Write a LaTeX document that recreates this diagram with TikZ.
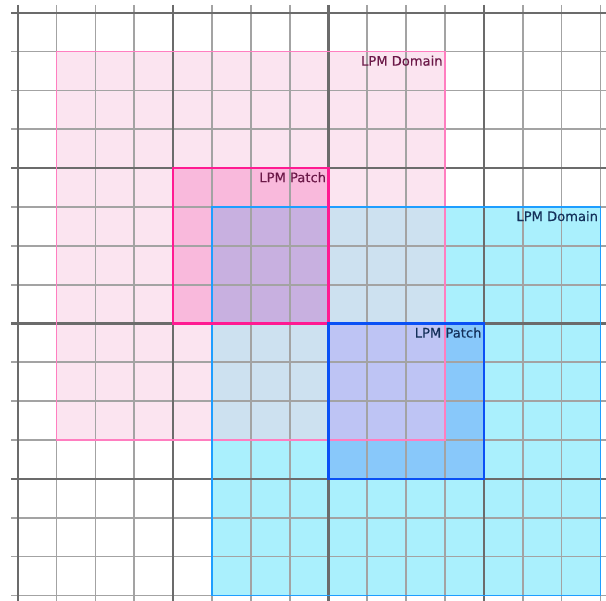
\documentclass[tikz,border=0pt]{standalone}
\usepackage{fontspec}
\newfontfamily\lpmfont[BoldFont={DejaVu Sans}, BoldFeatures={FakeBold=0.3}]{DejaVu Sans}
\usepackage{tikz}

\definecolor{pinkdomfill}{HTML}{FBE4F0}
\definecolor{pinkpatchfill}{HTML}{F9B9DC}
\definecolor{bluedomfill}{HTML}{AAF0FD}
\definecolor{bluepatchfill}{HTML}{88C8FA}
\definecolor{mixdom}{HTML}{CDE1F0}
\definecolor{mixpinkpatch}{HTML}{C8B0E0}
\definecolor{mixbluepatch}{HTML}{BEC4F4}
\definecolor{pinkdomline}{HTML}{FF7EC0}
\definecolor{pinkpatchline}{HTML}{FF1A92}
\definecolor{bluedomline}{HTML}{1E9EFF}
\definecolor{bluepatchline}{HTML}{0A50F5}
\definecolor{pinktext}{HTML}{6B1848}
\definecolor{bluetext}{HTML}{14305A}

\begin{document}
\begin{tikzpicture}[
    gridthin/.style={draw=black!36, line width=1.3pt},
    gridthick/.style={draw=black!58, line width=1.5pt},
    domline/.style={line width=1.3pt},
    patchline/.style={line width=1.6pt},
    lpmlabel/.style={font=\lpmfont\bfseries\fontsize{9.6}{11}\selectfont, anchor=north east, inner sep=1.6pt, yshift=-1.2pt}
]
\useasboundingbox (-0.456,0.327) rectangle (15.143,-15.143);

% Box corners
\coordinate (pdomNW) at (1,-1);
\coordinate (pdomSE) at (11,-11);
\coordinate (pdomNE) at (11,-1);
\coordinate (ppatNW) at (4,-4);
\coordinate (ppatSE) at (8,-8);
\coordinate (ppatNE) at (8,-4);
\coordinate (bdomNW) at (5,-5);
\coordinate (bdomSE) at (15,-15);
\coordinate (bdomNE) at (15,-5);
\coordinate (bpatNW) at (8,-8);
\coordinate (bpatSE) at (12,-12);
\coordinate (bpatNE) at (12,-8);

% Fills
\fill[pinkdomfill] (pdomNW) rectangle (pdomSE);
\fill[bluedomfill] (bdomNW) rectangle (bdomSE);
\fill[mixdom] (bdomNW) rectangle (pdomSE);
\fill[pinkpatchfill] (ppatNW) rectangle (ppatSE);
\fill[mixpinkpatch] (bdomNW) rectangle (ppatSE);
\fill[bluepatchfill] (bpatNW) rectangle (bpatSE);
\fill[mixbluepatch] (bpatNW) rectangle (pdomSE);

% Grid
\foreach \i in {0,...,15} {
    \draw[gridthin] (\i,0.2) -- (\i,-15.143);
    \draw[gridthin] (-0.17,-\i) -- (15.143,-\i);
}
\foreach \i in {0,4,8,12} {
    \draw[gridthick] (\i,0.2) -- (\i,-15.143);
    \draw[gridthick] (-0.17,-\i) -- (15.143,-\i);
}

% Borders
\draw[domline, pinkdomline] (pdomNW) rectangle (pdomSE);
\draw[domline, bluedomline] (bdomNW) rectangle (bdomSE);
\draw[patchline, pinkpatchline] (ppatNW) rectangle (ppatSE);
\draw[patchline, bluepatchline] (bpatNW) rectangle (bpatSE);

% Labels
\node[lpmlabel, pinktext] (pdomlabel) at (pdomNE) {LPM Domain};
\node[lpmlabel, pinktext] (ppatlabel) at (ppatNE) {LPM Patch};
\node[lpmlabel, bluetext] (bdomlabel) at (bdomNE) {LPM Domain};
\node[lpmlabel, bluetext] (bpatlabel) at (bpatNE) {LPM Patch};

\end{tikzpicture}
\end{document}
